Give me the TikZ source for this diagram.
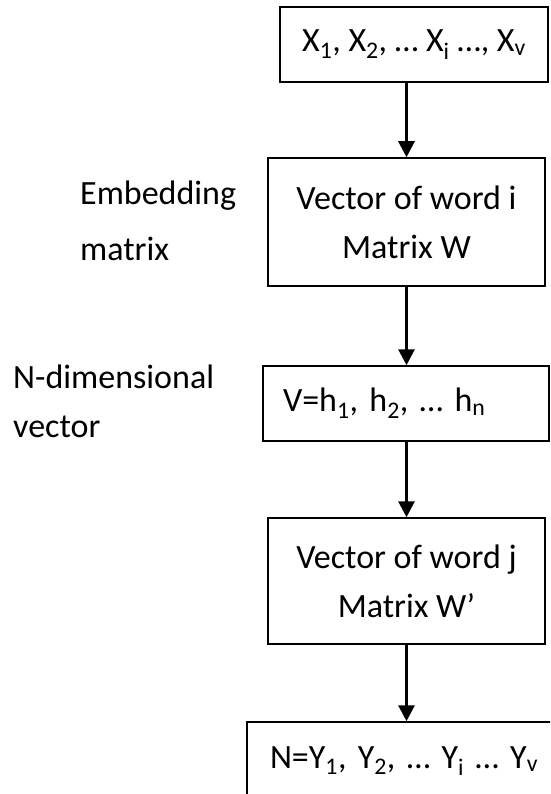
\documentclass[tikz,border=0pt]{standalone}
\usepackage{fontspec}
\setmainfont{Carlito}
\usetikzlibrary{arrows.meta}
\begin{document}
\begin{tikzpicture}[x=1pt,y=-1pt,
  every node/.style={font=\fontsize{34}{49}\selectfont, inner sep=0pt},
  box/.style={draw, line width=1.5pt, align=center},
  flow/.style={-{Triangle[width=16pt,length=16pt]}, line width=3pt},
  side/.style={align=left, anchor=base west}]
\useasboundingbox (0,0) rectangle (550,794);
\clip (0,0) rectangle (550,794);

% processing chain
\node[box, minimum width=268, minimum height=75] (inp) at (414,44.5)
  {X\textsubscript{1}, X\textsubscript{2}, … X\textsubscript{i} …, X\textsubscript{v}};
\node[box, minimum width=277, minimum height=128] (emb) at (406.5,222)
  {Vector of word i\\Matrix W};
\node[box, align=left, text width=246, inner xsep=20, minimum height=75] (hid) at (406,403.5)
  {V=h\textsubscript{1}, h\textsubscript{2}, … h\textsubscript{n}};
\node[box, minimum width=277, minimum height=126] (ctx) at (406.5,581)
  {Vector of word j\\Matrix W’};
\node[box, align=left, text width=269, inner xsep=23, minimum height=78] (out) at (404.5,761)
  {N=Y\textsubscript{1}, Y\textsubscript{2}, … Y\textsubscript{i} … Y\textsubscript{v}};

% side captions (base anchor sits on the last line)
\node[side] (embl) at (80,260) {Embedding\\[6pt]matrix};
\node[side] (hidl) at (13,437) {N-dimensional\\vector};

% connectors
\draw[flow] (emb.north |- inp.south) -- (emb.north);
\draw[flow] (emb.south) -- (emb.south |- hid.north);
\draw[flow] (emb.south |- hid.south) -- (emb.south |- ctx.north);
\draw[flow] (ctx.south) -- (ctx.south |- out.north);
\end{tikzpicture}
\end{document}
